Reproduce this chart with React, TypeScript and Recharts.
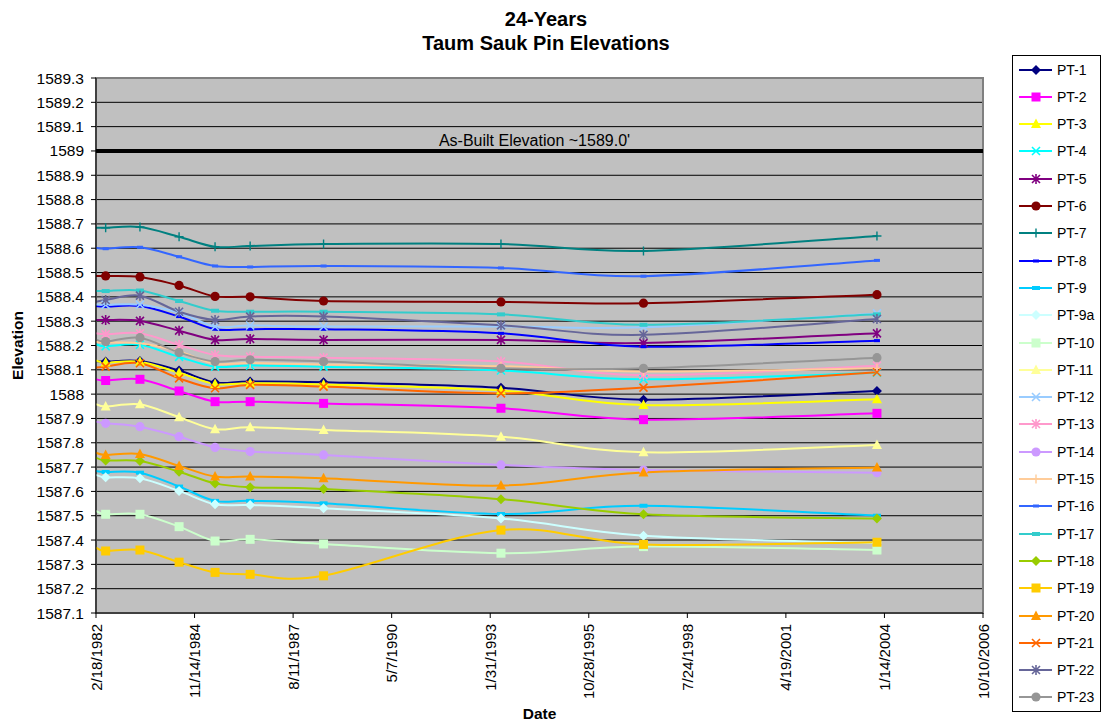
import React from 'react';
import { LineChart, Line, XAxis, YAxis, CartesianGrid, ReferenceLine, ReferenceArea } from 'recharts';

// ---------- data ----------
const surveyDates = ['2/18/1982', '5/27/1982', '5/10/1983', '6/10/1984', '6/10/1985', '6/1/1986', '6/15/1988', '5/20/1993', '5/5/1997', '10/30/2003'];

const xTickLabels = ['2/18/1982', '11/14/1984', '8/11/1987', '5/7/1990', '1/31/1993', '10/28/1995', '7/24/1998', '4/19/2001', '1/14/2004', '10/10/2006'];
const yTicks = [1587.1, 1587.2, 1587.3, 1587.4, 1587.5, 1587.6, 1587.7, 1587.8, 1587.9, 1588.0, 1588.1, 1588.2, 1588.3, 1588.4, 1588.5, 1588.6, 1588.7, 1588.8, 1588.9, 1589.0, 1589.1, 1589.2, 1589.3];
const asBuiltElevation = 1589.0;
const asBuiltText = "As-Built Elevation ~1589.0'";

const pt1 = [1588.136, 1588.134, 1588.136, 1588.097, 1588.048, 1588.052, 1588.049, 1588.026, 1587.977, 1588.013];
const pt2 = [1588.061, 1588.056, 1588.061, 1588.013, 1587.969, 1587.969, 1587.962, 1587.942, 1587.895, 1587.921];
const pt3 = [1588.138, 1588.130, 1588.133, 1588.088, 1588.042, 1588.045, 1588.040, 1588.015, 1587.955, 1587.979];
const pt4 = [1588.205, 1588.197, 1588.203, 1588.153, 1588.113, 1588.118, 1588.113, 1588.097, 1588.061, 1588.088];
const pt5 = [1588.305, 1588.305, 1588.301, 1588.261, 1588.223, 1588.227, 1588.223, 1588.223, 1588.210, 1588.250];
const pt6 = [1588.486, 1588.486, 1588.482, 1588.447, 1588.402, 1588.400, 1588.383, 1588.379, 1588.374, 1588.409];
const pt7 = [1588.684, 1588.684, 1588.687, 1588.647, 1588.606, 1588.609, 1588.617, 1588.617, 1588.589, 1588.650];
const pt8 = [1588.362, 1588.360, 1588.362, 1588.319, 1588.267, 1588.267, 1588.267, 1588.250, 1588.195, 1588.220];
const pt9 = [1587.684, 1587.680, 1587.677, 1587.620, 1587.561, 1587.561, 1587.551, 1587.507, 1587.541, 1587.500];
const pt9a = [1587.668, 1587.658, 1587.654, 1587.602, 1587.547, 1587.544, 1587.531, 1587.489, 1587.418, 1587.388];
const pt10 = [1587.520, 1587.506, 1587.506, 1587.455, 1587.396, 1587.403, 1587.384, 1587.346, 1587.373, 1587.359];
const pt11 = [1587.959, 1587.949, 1587.958, 1587.905, 1587.856, 1587.864, 1587.853, 1587.825, 1587.761, 1587.791];
const pt12 = [1588.369, 1588.367, 1588.368, 1588.335, 1588.278, 1588.282, 1588.278, 1588.278, 1588.275, 1588.332];
const pt13 = [1588.250, 1588.246, 1588.250, 1588.202, 1588.161, 1588.154, 1588.150, 1588.134, 1588.078, 1588.117];
const pt14 = [1587.887, 1587.880, 1587.866, 1587.825, 1587.781, 1587.764, 1587.750, 1587.709, 1587.688, 1587.677];
const pt15 = [1588.215, 1588.212, 1588.209, 1588.175, 1588.125, 1588.128, 1588.122, 1588.115, 1588.093, 1588.106];
const pt16 = [1588.602, 1588.598, 1588.604, 1588.565, 1588.527, 1588.523, 1588.527, 1588.519, 1588.485, 1588.550];
const pt17 = [1588.424, 1588.424, 1588.426, 1588.383, 1588.343, 1588.339, 1588.339, 1588.328, 1588.285, 1588.328];
const pt18 = [1587.739, 1587.727, 1587.725, 1587.681, 1587.633, 1587.617, 1587.610, 1587.568, 1587.506, 1587.489];
const pt19 = [1587.369, 1587.355, 1587.359, 1587.309, 1587.267, 1587.259, 1587.253, 1587.441, 1587.382, 1587.391];
const pt20 = [1587.759, 1587.750, 1587.754, 1587.705, 1587.661, 1587.661, 1587.654, 1587.624, 1587.678, 1587.698];
const pt21 = [1588.109, 1588.113, 1588.127, 1588.065, 1588.024, 1588.038, 1588.031, 1588.003, 1588.027, 1588.090];
const pt22 = [1588.380, 1588.387, 1588.405, 1588.339, 1588.305, 1588.319, 1588.319, 1588.283, 1588.244, 1588.309];
const pt23 = [1588.225, 1588.216, 1588.232, 1588.171, 1588.134, 1588.141, 1588.134, 1588.106, 1588.106, 1588.150];

const seriesNames = ['PT-1', 'PT-2', 'PT-3', 'PT-4', 'PT-5', 'PT-6', 'PT-7', 'PT-8', 'PT-9', 'PT-9a', 'PT-10', 'PT-11', 'PT-12', 'PT-13', 'PT-14', 'PT-15', 'PT-16', 'PT-17', 'PT-18', 'PT-19', 'PT-20', 'PT-21', 'PT-22', 'PT-23'];
const seriesValues = [pt1, pt2, pt3, pt4, pt5, pt6, pt7, pt8, pt9, pt9a, pt10, pt11, pt12, pt13, pt14, pt15, pt16, pt17, pt18, pt19, pt20, pt21, pt22, pt23];

// ---------- styles ----------
type MarkerKind = 'diamond' | 'square' | 'triangle' | 'x' | 'star' | 'circle' | 'plus' | 'dash' | 'dashWide';
const seriesColors = ['#000080', '#FF00FF', '#FFFF00', '#00FFFF', '#800080', '#800000', '#008080', '#0000FF', '#00CCFF', '#CCFFFF', '#CCFFCC', '#FFFF99', '#99CCFF', '#FF99CC', '#CC99FF', '#FFCC99', '#3366FF', '#33CCCC', '#99CC00', '#FFCC00', '#FF9900', '#FF6600', '#666699', '#969696'];
const seriesMarkers: MarkerKind[] = ['diamond', 'square', 'triangle', 'x', 'star', 'circle', 'plus', 'dash', 'dashWide', 'diamond', 'square', 'triangle', 'x', 'star', 'circle', 'plus', 'dash', 'dashWide', 'diamond', 'square', 'triangle', 'x', 'star', 'circle'];

const FONT = "Arial, 'Liberation Sans', sans-serif";

const parseDate = (s: string) => {
  const [m, d, y] = s.split('/').map(Number);
  return Date.UTC(y, m - 1, d);
};

const xTickValues = xTickLabels.map(parseDate);
const xDomain = [xTickValues[0], xTickValues[xTickValues.length - 1]];

const rows = surveyDates.map((ds, i) => {
  const row: Record<string, number> = { t: parseDate(ds) };
  seriesNames.forEach((n, k) => {
    row[n] = seriesValues[k][i];
  });
  return row;
});

// Excel-like smoothing (Catmull-Rom as cubic Bezier)
const excelSmooth: any = (context: any) => {
  let pts: number[][] = [];
  return {
    areaStart() {},
    areaEnd() {},
    lineStart() {
      pts = [];
    },
    point(x: number, y: number) {
      pts.push([+x, +y]);
    },
    lineEnd() {
      const n = pts.length;
      if (!n) return;
      context.moveTo(pts[0][0], pts[0][1]);
      for (let i = 0; i < n - 1; i++) {
        const p0 = pts[i > 0 ? i - 1 : i];
        const p1 = pts[i];
        const p2 = pts[i + 1];
        const p3 = pts[i + 2 < n ? i + 2 : i + 1];
        context.bezierCurveTo(
          p1[0] + (p2[0] - p0[0]) / 6,
          p1[1] + (p2[1] - p0[1]) / 6,
          p2[0] - (p3[0] - p1[0]) / 6,
          p2[1] - (p3[1] - p1[1]) / 6,
          p2[0],
          p2[1]
        );
      }
    },
  };
};

function markerShape(kind: MarkerKind, color: string, cx: number, cy: number) {
  switch (kind) {
    case 'diamond':
      return <polygon points={`${cx},${cy - 5} ${cx + 5},${cy} ${cx},${cy + 5} ${cx - 5},${cy}`} fill={color} />;
    case 'square':
      return <rect x={cx - 4.5} y={cy - 4.5} width={9} height={9} fill={color} />;
    case 'triangle':
      return <polygon points={`${cx},${cy - 5.5} ${cx + 5},${cy + 4} ${cx - 5},${cy + 4}`} fill={color} />;
    case 'x':
      return (
        <path d={`M${cx - 4},${cy - 4}L${cx + 4},${cy + 4}M${cx + 4},${cy - 4}L${cx - 4},${cy + 4}`} stroke={color} strokeWidth={1.6} fill="none" />
      );
    case 'star':
      return (
        <path
          d={`M${cx - 4},${cy - 4}L${cx + 4},${cy + 4}M${cx + 4},${cy - 4}L${cx - 4},${cy + 4}M${cx},${cy - 5}L${cx},${cy + 5}`}
          stroke={color}
          strokeWidth={1.6}
          fill="none"
        />
      );
    case 'circle':
      return <circle cx={cx} cy={cy} r={4.6} fill={color} />;
    case 'plus':
      return <path d={`M${cx - 4.5},${cy}L${cx + 4.5},${cy}M${cx},${cy - 4.5}L${cx},${cy + 4.5}`} stroke={color} strokeWidth={1.4} fill="none" />;
    case 'dash':
      return <rect x={cx - 3} y={cy - 1.5} width={6} height={3} fill={color} />;
    case 'dashWide':
      return <rect x={cx - 4} y={cy - 2} width={8} height={4} fill={color} />;
  }
  return null;
}

const makeDot = (kind: MarkerKind, color: string) => (props: any) => {
  const { cx, cy, index } = props;
  if (index === 0 || cx == null || cy == null) return <g key={`d-${index}`} />;
  return <g key={`d-${index}`}>{markerShape(kind, color, cx, cy)}</g>;
};

const XTick = (props: any) => {
  const { x, y, payload } = props;
  const idx = xTickValues.indexOf(payload.value);
  const label = idx >= 0 ? xTickLabels[idx] : '';
  return (
    <text
      x={x}
      y={y}
      transform={`rotate(-90, ${x}, ${y})`}
      textAnchor="end"
      dominantBaseline="central"
      fontFamily={FONT}
      fontSize={15}
      fill="#000"
    >
      {label}
    </text>
  );
};

const formatY = (v: number) => String(Math.round(v * 10) / 10);

const AsBuiltLabel = (props: any) => {
  const vb = props.viewBox || {};
  return (
    <text x={vb.x + vb.width / 2 - 5} y={vb.y - 4.5} textAnchor="middle" fontFamily={FONT} fontSize={16} fill="#000">
      {asBuiltText}
    </text>
  );
};

const YLabel = (props: any) => {
  const vb = props.viewBox || {};
  const cx = 17;
  const cy = vb.y + vb.height / 2;
  return (
    <text x={cx} y={cy} transform={`rotate(-90, ${cx}, ${cy})`} textAnchor="middle" dominantBaseline="central" fontFamily={FONT} fontWeight="bold" fontSize={15.5} fill="#000">
      Elevation
    </text>
  );
};

const XLabel = (props: any) => {
  const vb = props.viewBox || {};
  return (
    <text x={vb.x + vb.width / 2} y={719} textAnchor="middle" fontFamily={FONT} fontWeight="bold" fontSize={15.5} fill="#000">
      Date
    </text>
  );
};

const LEGEND_TOP = 55;
const Legend = () => (
  <div
    style={{
      position: 'absolute',
      left: 1012,
      top: LEGEND_TOP,
      width: 89,
      height: 657,
      border: '1px solid #000',
      boxSizing: 'border-box',
      background: '#fff',
      fontFamily: FONT,
    }}
  >
    {seriesNames.map((name, i) => {
      const cyPage = 69.5 + i * 27.3;
      const top = cyPage - LEGEND_TOP - 1 - 8;
      return (
        <div key={name} style={{ position: 'absolute', left: 0, top, height: 16, width: 87 }}>
          <svg width={40} height={16} style={{ position: 'absolute', left: 6, top: 0 }}>
            <line x1={0} y1={8} x2={33} y2={8} stroke={seriesColors[i]} strokeWidth={2} />
            {markerShape(seriesMarkers[i], seriesColors[i], 17, 8)}
          </svg>
          <span style={{ position: 'absolute', left: 44, top: 0, fontSize: 14, lineHeight: '16px', color: '#000', whiteSpace: 'nowrap' }}>{name}</span>
        </div>
      );
    })}
  </div>
);

export default function App() {
  return (
    <div style={{ position: 'absolute', left: 0, top: 0, width: 1101, height: 724, background: '#fff' }}>
      <div
        style={{
          position: 'absolute',
          left: 0,
          width: 1092,
          top: 7,
          textAlign: 'center',
          fontFamily: FONT,
          fontWeight: 'bold',
          fontSize: 20,
          lineHeight: '24px',
          color: '#000',
        }}
      >
        <div>24-Years</div>
        <div>Taum Sauk Pin Elevations</div>
      </div>
      <div style={{ position: 'absolute', left: 0, top: 0 }}>
        <LineChart width={1101} height={724} data={rows} margin={{ top: 78, right: 118, left: 0, bottom: 0 }}>
          <CartesianGrid vertical={false} fill="#C0C0C0" fillOpacity={1} stroke="#000" strokeWidth={1} horizontalValues={yTicks} />
          <XAxis
            dataKey="t"
            type="number"
            domain={xDomain}
            allowDataOverflow
            ticks={xTickValues}
            interval={0}
            height={111}
            tickSize={5}
            tickMargin={6}
            tick={<XTick />}
            axisLine={{ stroke: '#000', strokeWidth: 1 }}
            tickLine={{ stroke: '#000', strokeWidth: 1 }}
            label={<XLabel />}
          />
          <YAxis
            type="number"
            domain={[yTicks[0], yTicks[yTicks.length - 1]]}
            allowDataOverflow
            ticks={yTicks}
            interval={0}
            width={96}
            tickSize={5}
            tickMargin={7}
            tickFormatter={formatY}
            tick={{ fontSize: 15.5, fill: '#000', fontFamily: FONT }}
            axisLine={{ stroke: '#000', strokeWidth: 1 }}
            tickLine={{ stroke: '#000', strokeWidth: 1 }}
            label={<YLabel />}
          />
          <ReferenceArea x1={xDomain[0]} x2={xDomain[1]} y1={yTicks[0]} y2={yTicks[yTicks.length - 1]} fill="none" stroke="#808080" strokeWidth={2} />
          <ReferenceLine y={asBuiltElevation} stroke="#000" strokeWidth={4} label={<AsBuiltLabel />} />
          {seriesNames.map((name, i) => (
            <Line
              key={name}
              dataKey={name}
              type={excelSmooth}
              stroke={seriesColors[i]}
              strokeWidth={2}
              dot={makeDot(seriesMarkers[i], seriesColors[i])}
              activeDot={false}
              isAnimationActive={false}
              legendType="none"
            />
          ))}
        </LineChart>
      </div>
      <Legend />
    </div>
  );
}
